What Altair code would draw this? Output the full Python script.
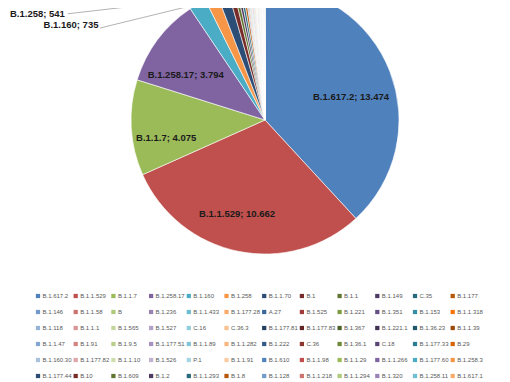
import colorsys
import altair as alt
import pandas as pd

# ---- data ----
names = [
    "B.1.617.2", "B.1.1.529", "B.1.1.7", "B.1.258.17", "B.1.160", "B.1.258",
    "B.1.1.70", "B.1", "B.1.1", "B.1.149", "C.35", "B.1.177",
    "B.1.146", "B.1.1.58", "B", "B.1.236", "B.1.1.433", "B.1.177.28",
    "A.27", "B.1.525", "B.1.221", "B.1.351", "B.1.153", "B.1.1.318",
    "B.1.118", "B.1.1.1", "B.1.565", "B.1.527", "C.16", "C.36.3",
    "B.1.177.81", "B.1.177.83", "B.1.367", "B.1.221.1", "B.1.36.23", "B.1.1.39",
    "B.1.1.47", "B.1.91", "B.1.9.5", "B.1.177.51", "B.1.1.89", "B.1.1.282",
    "B.1.222", "C.36", "B.1.36.1", "C.18", "B.1.177.33", "B.29",
    "B.1.160.30", "B.1.177.82", "B.1.1.10", "B.1.526", "P.1", "B.1.1.91",
    "B.1.610", "B.1.1.98", "B.1.1.29", "B.1.1.266", "B.1.177.60", "B.1.258.3",
    "B.1.177.44", "B.10", "B.1.609", "B.1.2", "B.1.1.293", "B.1.8",
    "B.1.128", "B.1.1.218", "B.1.1.294", "B.1.320", "B.1.258.11", "B.1.617.1",
]
values = [
    13474, 10662, 4075, 3794, 735, 541,
    480, 240, 140, 120, 110, 100,
    55, 48, 42, 38, 34, 31,
    29, 27, 25, 24, 23, 22,
    21, 20, 18, 17, 17, 16,
    15, 14, 14, 13, 13, 12,
    12, 12, 11, 11, 11, 10,
    10, 10, 10, 9, 9, 9,
    9, 8, 8, 8, 8, 7,
    7, 7, 7, 7, 6, 6,
    6, 6, 6, 5, 5, 5,
    5, 5, 5, 5, 4, 4,
]
labelled_inside = ["B.1.617.2", "B.1.1.529", "B.1.1.7", "B.1.258.17"]
labelled_outside = ["B.1.160", "B.1.258"]

df = pd.DataFrame({"name": names, "value": values, "order": list(range(len(names)))})

# ---- Excel 2007 point colour cycle (style) ----
accents = ["#4F81BD", "#C0504D", "#9BBB59", "#8064A2", "#4BACC6", "#F79646"]
variations = [(1, 0), (0.6, 0), (0.8, 0.2), (0.8, 0), (0.6, 0.4),
              (0.5, 0), (0.7, 0.3), (0.7, 0), (0.5, 0.5)]


def vary(hexcol, mod, off):
    r, g, b = (int(hexcol[i:i + 2], 16) / 255 for i in (1, 3, 5))
    h, l, s = colorsys.rgb_to_hls(r, g, b)
    l = min(1.0, l * mod + off)
    r, g, b = colorsys.hls_to_rgb(h, l, s)
    return "#%02x%02x%02x" % (round(r * 255), round(g * 255), round(b * 255))


colors = [vary(accents[i % 6], *variations[(i // 6) % 9]) for i in range(len(names))]

CX, CY, R = 257, 112, 134
RIN = 94
FONT = "Liberation Sans"

pie = alt.Chart(df).mark_arc(outerRadius=R, stroke="white", strokeWidth=0.6).encode(
    theta=alt.Theta("value:Q", stack=True),
    color=alt.Color(
        "name:N",
        scale=alt.Scale(domain=names, range=colors),
        legend=alt.Legend(
            title=None, orient="none", legendX=27, legendY=285, columns=12,
            direction="horizontal",
            symbolType="square", symbolSize=18, symbolStrokeWidth=0,
            labelFontSize=6, labelFont=FONT, labelColor="#595959",
            labelLimit=31, labelOffset=1.5, columnPadding=0.7, rowPadding=10,
            gridAlign="all", symbolLimit=100,
        ),
    ),
    order=alt.Order("order:Q", sort="ascending"),
    x=alt.value(CX),
    y=alt.value(CY),
)

geo = (
    alt.Chart(df)
    .transform_window(cum="sum(value)", sort=[alt.SortField("order", order="ascending")], frame=[None, 0])
    .transform_joinaggregate(total="sum(value)")
    .transform_calculate(
        mid="(datum.cum - datum.value/2) / datum.total * 2 * PI",
        txt="datum.name + '; ' + replace(format(datum.value, ','), ',', '.')",
    )
)


def label_text(name, radius, dx, dy):
    return geo.transform_filter(alt.datum.name == name).transform_calculate(
        px=f"{CX} + {radius} * sin(datum.mid)",
        py=f"{CY} - {radius} * cos(datum.mid)",
    ).mark_text(
        font=FONT, fontSize=9.5, fontWeight="bold", color="#1a1a1a", dx=dx, dy=dy
    ).encode(
        x=alt.X("px:Q", scale=None, axis=None),
        y=alt.Y("py:Q", scale=None, axis=None),
        text="txt:N",
    )


def leader(name, ldx, ldy):
    return geo.transform_filter(alt.datum.name == name).transform_calculate(
        px=f"{CX} + {R} * sin(datum.mid)",
        py=f"{CY} - {R} * cos(datum.mid)",
    ).transform_calculate(
        lx=f"datum.px + ({ldx})",
        ly=f"datum.py + ({ldy})",
    ).mark_rule(color="#a0a0a0", strokeWidth=0.8).encode(
        x=alt.X("px:Q", scale=None, axis=None),
        y=alt.Y("py:Q", scale=None, axis=None),
        x2="lx:Q",
        y2="ly:Q",
    )


# placement offsets (style)
inside_offsets = {"B.1.617.2": (-1.5, 11), "B.1.1.529": (-9, 2),
                  "B.1.1.7": (-5, 12.5), "B.1.258.17": (-4, 11)}
outside_offsets = {"B.1.160": ((-126.7, 20.9), (-97.7, 23.9)),
                   "B.1.258": ((-173.8, 16.5), (-143.3, 16.5))}

layers = [pie]
for n in labelled_inside:
    dx, dy = inside_offsets[n]
    layers.append(label_text(n, RIN, dx, dy))
for n in labelled_outside:
    (tdx, tdy), (ldx, ldy) = outside_offsets[n]
    layers.append(leader(n, ldx, ldy))
    layers.append(label_text(n, R, tdx, tdy))

chart = alt.layer(*layers).properties(
    width=494, height=374, padding=0,
    autosize=alt.AutoSizeParams(type="none"),
).configure_view(stroke="transparent")

chart.save("out.html", embed_options={"renderer": "svg", "actions": False})
